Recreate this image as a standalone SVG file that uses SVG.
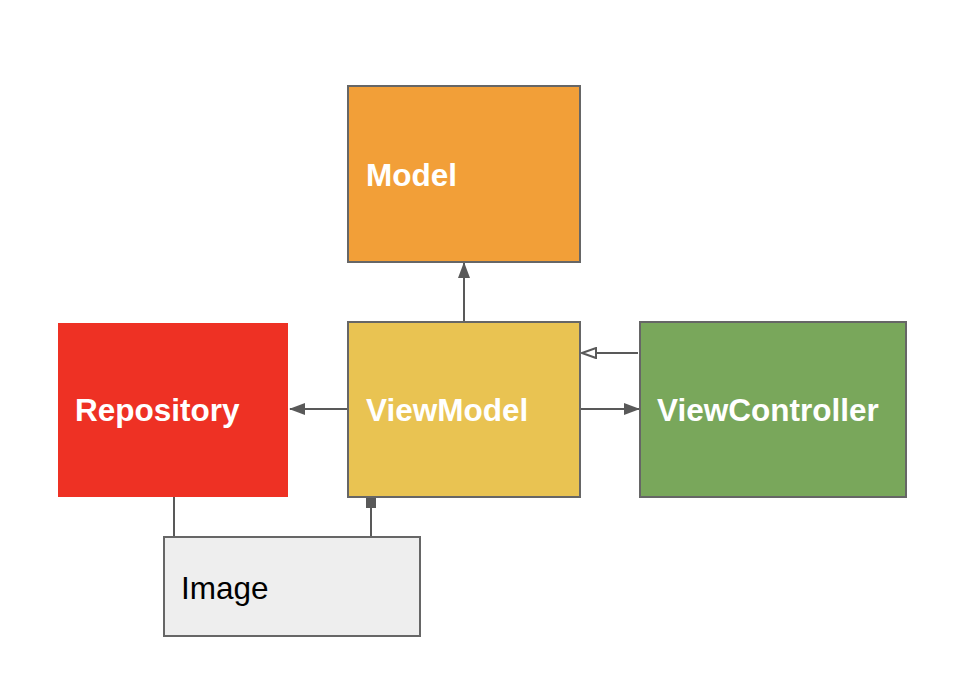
<svg xmlns="http://www.w3.org/2000/svg" width="980" height="700" viewBox="0 0 980 700">
<style>
.box{stroke:#666666;stroke-width:2}
.lbl{font-family:"Liberation Sans",Arial,sans-serif;font-size:31.5px;font-weight:bold;fill:#ffffff}
.lblk{font-family:"Liberation Sans",Arial,sans-serif;font-size:31.5px;fill:#000000}
.c{stroke:#595959;stroke-width:2;fill:none}
</style>
<defs>
<marker id="fa" markerWidth="16" markerHeight="12" refX="15" refY="6" orient="auto" markerUnits="userSpaceOnUse">
<path d="M0,0 L16,6 L0,12 Z" fill="#595959"/>
</marker>
<marker id="oa" markerWidth="16" markerHeight="12" refX="15" refY="6" orient="auto" markerUnits="userSpaceOnUse">
<path d="M1,1 L15,6 L1,11 Z" fill="#ffffff" stroke="#595959" stroke-width="2"/>
</marker>
</defs>
<rect width="980" height="700" fill="#ffffff"/>
<g id="connectors">
<line class="c" x1="464" y1="322" x2="464" y2="263" marker-end="url(#fa)"/>
<line class="c" x1="348" y1="409" x2="290" y2="409" marker-end="url(#fa)"/>
<line class="c" x1="581" y1="409" x2="639" y2="409" marker-end="url(#fa)"/>
<line class="c" x1="638" y1="353" x2="582" y2="353" marker-end="url(#oa)"/>
<line class="c" x1="174" y1="497" x2="174" y2="538"/>
<line class="c" x1="371" y1="505" x2="371" y2="537"/>
<rect x="366" y="498" width="10" height="10" fill="#595959"/>
</g>
<g id="model">
<rect class="box" x="348" y="86" width="232" height="176" fill="#F29F38"/>
<text class="lbl" x="366" y="186">Model</text>
</g>
<g id="repository">
<rect x="58" y="323" width="230" height="174" fill="#EE3124"/>
<text class="lbl" x="75" y="421">Repository</text>
</g>
<g id="viewmodel">
<rect class="box" x="348" y="322" width="232" height="175" fill="#E9C352"/>
<text class="lbl" x="366" y="421">ViewModel</text>
</g>
<g id="viewcontroller">
<rect class="box" x="640" y="322" width="266" height="175" fill="#79A75B"/>
<text class="lbl" x="657" y="421">ViewController</text>
</g>
<g id="image">
<rect class="box" x="164" y="537" width="256" height="99" fill="#EEEEEE"/>
<text class="lblk" x="181" y="599">Image</text>
</g>
</svg>
